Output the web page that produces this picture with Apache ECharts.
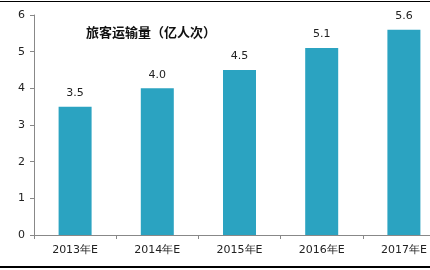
<!DOCTYPE html>
<html>
<head>
<meta charset="utf-8">
<script src="https://cdn.jsdelivr.net/npm/echarts@6/dist/echarts.min.js"></script>
<style>
  html, body { margin: 0; padding: 0; background: #fff; overflow: hidden; }
  #chart { width: 445px; height: 270px; }
</style>
</head>
<body>
<div id="chart"></div>
<script>
// 旅客运输量（亿人次）
const years = ['2013年E', '2014年E', '2015年E', '2016年E', '2017年E'];
const volume = [3.5, 4.0, 4.5, 5.1, 5.6];
const yTicks = [0, 1, 2, 3, 4, 5, 6];

const BAR = '#2ba3c1';
const AXIS = '#888';
const TEXT = '#222';

// 最后一个类目在原图右侧被裁掉一截，画布比窗口宽 15px
const chart = echarts.init(document.getElementById('chart'), null, { renderer: 'canvas' });
chart.setOption({
  backgroundColor: '#fff',
  animation: false,
  textStyle: { fontFamily: "'DejaVu Sans', sans-serif" },
  title: {
    text: '旅客运输量（亿人次）',
    left: 81, top: 21,
    textStyle: { fontFamily: "'Noto Sans CJK SC', serif", fontWeight: 'bold', fontSize: 13, color: '#111' },
  },
  grid: { left: 34, right: 0, top: 15, bottom: 35, containLabel: false },
  xAxis: {
    type: 'category',
    data: years,
    axisLine: { lineStyle: { color: AXIS } },
    axisTick: { show: true, length: 4, lineStyle: { color: AXIS } },
    axisLabel: { color: TEXT, fontSize: 11, margin: 10, interval: 0 },
  },
  yAxis: {
    type: 'value',
    min: yTicks[0], max: yTicks[yTicks.length - 1], interval: 1,
    axisLine: { show: true, lineStyle: { color: AXIS } },
    axisTick: { show: true, length: 4, lineStyle: { color: AXIS } },
    axisLabel: { color: TEXT, fontSize: 11, margin: 9 },
    splitLine: { show: false },
  },
  series: [{
    type: 'bar',
    data: volume,
    barWidth: 33,
    itemStyle: { color: BAR },
    label: {
      show: true, position: 'top', distance: 8,
      color: TEXT, fontSize: 11,
      formatter: p => p.value.toFixed(1),
    },
  }],
  graphic: [
    { type: 'rect', shape: { x: 0, y: 1, width: 445, height: 1 }, style: { fill: '#000' }, silent: true },
    { type: 'rect', shape: { x: 0, y: 266, width: 445, height: 2 }, style: { fill: '#000' }, silent: true },
  ],
});
</script>
</body>
</html>
